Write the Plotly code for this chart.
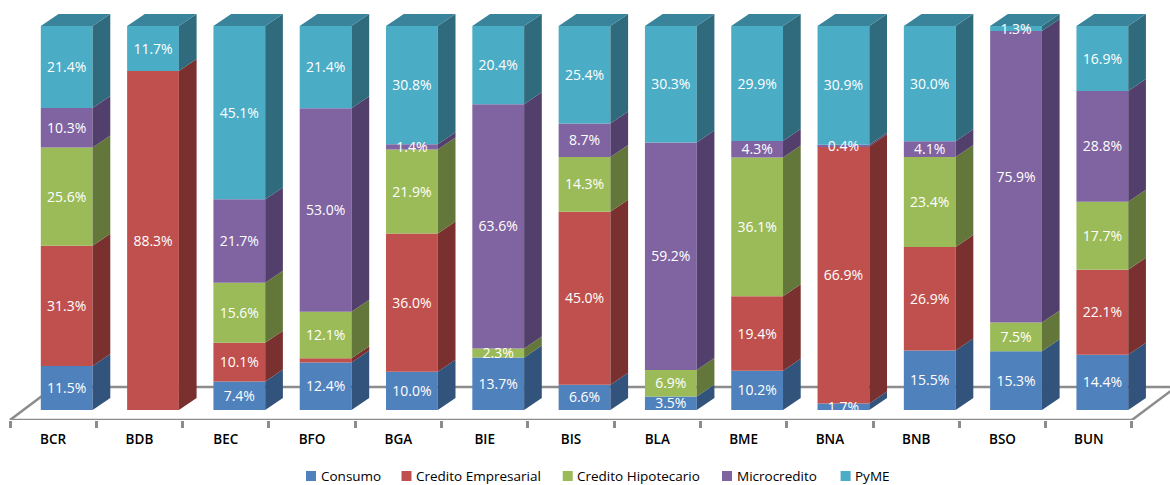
import plotly.graph_objects as go

# Lending portfolio composition by bank, in percent
banks = ["BCR", "BDB", "BEC", "BFO", "BGA", "BIE", "BIS", "BLA", "BME", "BNA", "BNB", "BSO", "BUN"]
consumo = [11.5, None, 7.4, 12.4, 10.0, 13.7, 6.6, 3.5, 10.2, 1.7, 15.5, 15.3, 14.4]
empresarial = [31.3, 88.3, 10.1, 1.1, 36.0, None, 45.0, None, 19.4, 66.9, 26.9, None, 22.1]
hipotecario = [25.6, None, 15.6, 12.1, 21.9, 2.3, 14.3, 6.9, 36.1, None, 23.4, 7.5, 17.7]
microcredito = [10.3, None, 21.7, 53.0, 1.4, 63.6, 8.7, 59.2, 4.3, 0.4, 4.1, 75.9, 28.8]
pyme = [21.4, 11.7, 45.1, 21.4, 30.8, 20.4, 25.4, 30.3, 29.9, 30.9, 30.0, 1.3, 16.9]
unlabelled = {("Credito Empresarial", "BFO")}

series_names = ["Consumo", "Credito Empresarial", "Credito Hipotecario", "Microcredito", "PyME"]
series_values = [consumo, empresarial, hipotecario, microcredito, pyme]
front_colors = ["#4F81BD", "#C0504D", "#9BBB59", "#8064A2", "#4BACC6"]
side_colors = ["#31537C", "#7A302E", "#63773A", "#533F6C", "#2F6B7D"]
top_color = "#3A849B"
grid_gray = "#8C8C8C"

# Pseudo-3D projection of each column, in axis units
BAR_WIDTH = 0.6
BAR_SHIFT = 0.157
DEPTH_X = 0.205
DEPTH_Y = 3.12
FLOOR_Y = -2.604
BACK_X = 0.51
BACK_Y = 8.6
LABEL_DROP = 0.4

n = len(banks)
fig = go.Figure()
positions = list(range(n))
totals = [sum(s[i] or 0 for s in series_values) for i in range(n)]
base = [0.0] * n

labels = []
for name, values, front, side in zip(series_names, series_values, front_colors, side_colors):
    scaled = [(v or 0) * 100 / t for v, t in zip(values, totals)]
    fig.add_trace(go.Bar(
        x=positions, y=scaled, base=base, name=name, width=BAR_WIDTH,
        offset=BAR_SHIFT - BAR_WIDTH / 2,
        marker=dict(color=front, line=dict(width=0)), showlegend=False,
    ))
    # Right-hand faces of the stacked segments
    sx, sy = [], []
    for i in range(n):
        if scaled[i] <= 0:
            continue
        xr = i + BAR_SHIFT + BAR_WIDTH / 2
        y0, y1 = base[i], base[i] + scaled[i]
        sx += [xr, xr + DEPTH_X, xr + DEPTH_X, xr, xr, None]
        sy += [y0, y0 + DEPTH_Y, y1 + DEPTH_Y, y1, y0, None]
    fig.add_trace(go.Scatter(
        x=sx, y=sy, fill="toself", fillcolor=side, mode="lines",
        line=dict(width=0, color=side), cliponaxis=False,
        hoverinfo="skip", showlegend=False,
    ))
    for i in range(n):
        if values[i] is not None and (name, banks[i]) not in unlabelled:
            labels.append((i + BAR_SHIFT, base[i] + scaled[i] / 2 - LABEL_DROP, f"{values[i]:.1f}%"))
    base = [b + s for b, s in zip(base, scaled)]

# Top faces of the columns
tx, ty = [], []
for i in range(n):
    xl = i + BAR_SHIFT - BAR_WIDTH / 2
    xr = xl + BAR_WIDTH
    tx += [xl, xl + DEPTH_X, xr + DEPTH_X, xr, xl, None]
    ty += [100, 100 + DEPTH_Y, 100 + DEPTH_Y, 100, 100, None]
fig.add_trace(go.Scatter(
    x=tx, y=ty, fill="toself", fillcolor=top_color, mode="lines",
    line=dict(width=0, color=top_color), cliponaxis=False,
    hoverinfo="skip", showlegend=False,
))

fig.add_trace(go.Scatter(
    x=[l[0] for l in labels], y=[l[1] for l in labels], text=[l[2] for l in labels],
    mode="text", textposition="middle center",
    textfont=dict(family="Open Sans", size=14, color="white"),
    cliponaxis=False, hoverinfo="skip", showlegend=False,
))

# Front edge of the floor sits on the axis, so it must not be clipped
left_edge, right_edge = -0.5, n - 0.5
fig.add_trace(go.Scatter(
    x=[left_edge, right_edge], y=[FLOOR_Y, FLOOR_Y],
    mode="lines", line=dict(color=grid_gray, width=2.5),
    cliponaxis=False, hoverinfo="skip", showlegend=False,
))

# Back and side edges of the floor run behind the columns
floor_edge = dict(color=grid_gray, width=2.5)
shapes = [
    dict(type="line", xref="x", yref="y", layer="below", line=floor_edge,
         x0=left_edge, y0=FLOOR_Y, x1=left_edge + BACK_X, y1=FLOOR_Y + BACK_Y),
    dict(type="line", xref="x", yref="y", layer="below", line=floor_edge,
         x0=left_edge + BACK_X, y0=FLOOR_Y + BACK_Y, x1=right_edge + BACK_X, y1=FLOOR_Y + BACK_Y),
    dict(type="line", xref="x", yref="y", layer="below", line=floor_edge,
         x0=right_edge, y0=FLOOR_Y, x1=right_edge + BACK_X, y1=FLOOR_Y + BACK_Y),
]

# Legend row along the bottom edge
legend_left = [306, 401.5, 562.7, 722, 840.6]
annotations = []
for name, color, px in zip(series_names, front_colors, legend_left):
    shapes.append(dict(type="rect", xref="paper", yref="paper", layer="above",
                       x0=px / 1170, x1=(px + 10) / 1170, y0=-51 / 420, y1=-61 / 420,
                       fillcolor=color, line=dict(width=0)))
    annotations.append(dict(xref="paper", yref="paper", x=(px + 12.5) / 1170, y=-56 / 420,
                            text=name, showarrow=False, xanchor="left", yanchor="middle",
                            font=dict(family="Open Sans", size=13.5, color="black")))

fig.update_layout(
    width=1170, height=485, autosize=False,
    margin=dict(l=0, r=0, t=0, b=65),
    paper_bgcolor="white", plot_bgcolor="white",
    barmode="overlay", bargap=0.4,
    shapes=shapes, annotations=annotations,
    xaxis=dict(
        range=[-0.6159, 12.941], tickmode="array", tickvals=positions, ticktext=banks,
        showgrid=False, zeroline=False, showline=False,
        ticks="outside", ticklen=7, tickcolor="rgba(0,0,0,0)",
        tickfont=dict(family="Open Sans", size=13.5, color="black", weight=600),
        minor=dict(tickmode="linear", tick0=-0.5, dtick=1, ticks="outside", ticklen=7,
                   tickwidth=2.5, tickcolor=grid_gray, showgrid=False),
    ),
    yaxis=dict(range=[FLOOR_Y, 106.77], visible=False),
)

fig.write_html("out.html", config=dict(displayModeBar=False))
